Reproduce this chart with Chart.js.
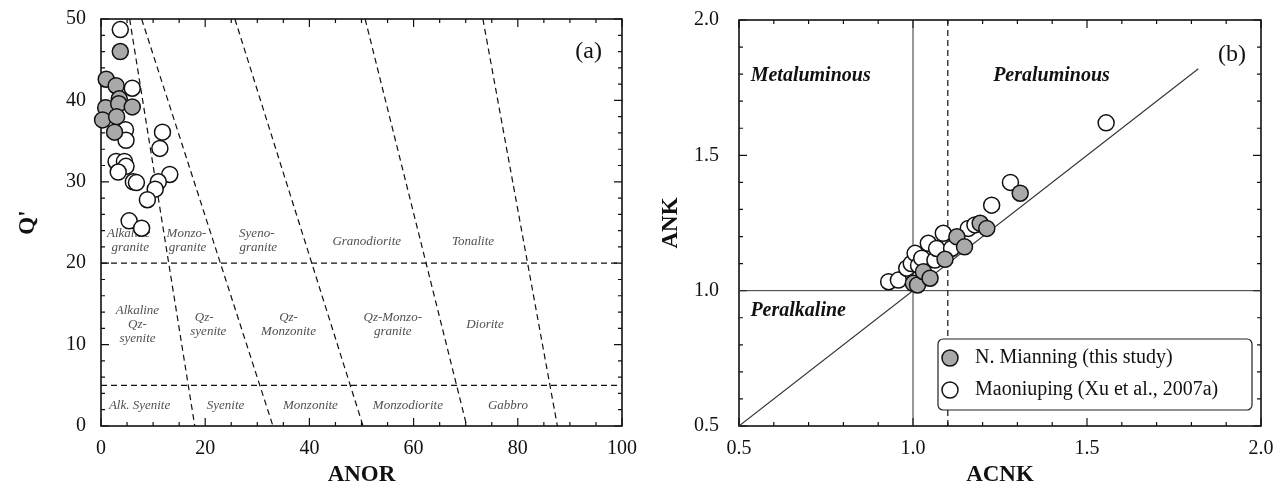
<!DOCTYPE html>
<html lang="en">
<head>
    <meta charset="UTF-8">
    <title>Q'-ANOR and ANK-ACNK diagrams</title>
    <script src="https://cdn.jsdelivr.net/npm/chart.js"></script>
    <style>
        body { margin: 0; background: #fff; }
        .panel { position: absolute; top: 0; }
    </style>
</head>
<body>
    <div class="panel" style="left:0"><canvas id="chartA" width="640" height="488"></canvas></div>
    <div class="panel" style="left:640px"><canvas id="chartB" width="634" height="488"></canvas></div>

    <script>
        // ---- (a) Q' vs ANOR ----
        const mianningAnor = [3.7, 1.0, 2.9, 3.5, 0.9, 3.4, 6.0, 0.3, 3.0, 2.6];
        const mianningQ = [46.0, 42.6, 41.8, 40.2, 39.1, 39.6, 39.2, 37.6, 38.0, 36.1];
        const maoniupingAnor = [3.7, 6.0, 4.7, 4.8, 11.8, 11.3, 2.9, 4.5, 4.8, 3.3, 6.2, 6.8, 13.2, 11.0, 10.4, 8.9, 5.4, 7.8];
        const maoniupingQ = [48.7, 41.5, 36.4, 35.1, 36.1, 34.1, 32.5, 32.5, 31.9, 31.2, 30.0, 29.9, 30.9, 30.0, 29.1, 27.8, 25.2, 24.3];

        // field boundaries: ANOR where each sloping line meets Q'=50 and Q'=0
        const boundaryTopAnor = [5.5, 7.8, 25.7, 50.7, 73.3];
        const boundaryBottomAnor = [18.0, 33.0, 50.3, 70.2, 87.6];
        const boundaryQ = [20, 5];

        const anorRange = [0, 100];
        const qRange = [0, 50];

        const fieldNames = [
            ['Alkaline', 5.3, 23.6], ['granite', 5.6, 21.9],
            ['Monzo-', 16.4, 23.6], ['granite', 16.6, 21.9],
            ['Syeno-', 29.9, 23.6], ['granite', 30.2, 21.9],
            ['Granodiorite', 51.0, 22.6], ['Tonalite', 71.4, 22.6],
            ['Alkaline', 7.0, 14.2], ['Qz-', 7.0, 12.4], ['syenite', 7.0, 10.7],
            ['Qz-', 19.8, 13.3], ['syenite', 20.6, 11.6],
            ['Qz-', 36.0, 13.3], ['Monzonite', 36.0, 11.6],
            ['Qz-Monzo-', 56.0, 13.3], ['granite', 56.0, 11.6],
            ['Diorite', 73.7, 12.4],
            ['Alk. Syenite', 7.4, 2.5], ['Syenite', 23.9, 2.5], ['Monzonite', 40.2, 2.5],
            ['Monzodiorite', 58.9, 2.5], ['Gabbro', 78.1, 2.5]
        ];

        // ---- (b) ANK vs ACNK ----
        const mianningAcnk = [1.001, 1.013, 1.030, 1.049, 1.092, 1.126, 1.148, 1.193, 1.212, 1.308];
        const mianningAnk = [1.027, 1.021, 1.070, 1.046, 1.116, 1.199, 1.162, 1.249, 1.230, 1.360];
        const maoniupingAcnk = [0.93, 0.958, 0.982, 0.995, 1.006, 1.016, 1.025, 1.044, 1.063, 1.068, 1.087, 1.111, 1.159, 1.178, 1.226, 1.28, 1.555];
        const maoniupingAnk = [1.033, 1.039, 1.083, 1.10, 1.138, 1.093, 1.12, 1.175, 1.113, 1.156, 1.212, 1.156, 1.23, 1.243, 1.316, 1.40, 1.62];

        const acnkRange = [0.5, 2.0];
        const ankRange = [0.5, 2.0];
        const diagonalEnd = 1.82;
        const acnkDashed = 1.1;

        const indexNames = [
            ['Metaluminous', 0.706, 1.793], ['Peraluminous', 1.398, 1.793], ['Peralkaline', 0.670, 0.925]
        ];

        const serif = '"Liberation Serif", "Times New Roman", serif';
        const ink = '#111';

        function points(xs, ys) {
            return xs.map((x, i) => ({x: x, y: ys[i]}));
        }

        function sampleSet(label, xs, ys, fill) {
            return {
                label: label,
                data: points(xs, ys),
                pointRadius: 8,
                pointBackgroundColor: fill,
                pointBorderColor: ink,
                pointBorderWidth: 1.5,
                clip: false
            };
        }

        function lineSet(from, to, dashed, width) {
            return {
                data: [from, to],
                showLine: true,
                pointRadius: 0,
                borderColor: dashed ? ink : '#333',
                borderWidth: width || 1.2,
                borderDash: dashed ? [6, 4] : []
            };
        }

        // inward ticks on all four sides plus the frame
        function frameTicks(xMajor, xMinor, yMajor, yMinor) {
            return {
                id: 'frameTicks',
                beforeDatasetsDraw(chart) {
                    const {ctx, chartArea: a, scales: {x, y}} = chart;
                    const isMajor = (v, step) => Math.abs(v / step - Math.round(v / step)) < 1e-6;
                    ctx.save();
                    ctx.strokeStyle = ink;
                    ctx.lineWidth = 1.2;
                    ctx.beginPath();
                    const nx = Math.round((x.max - x.min) / xMinor);
                    for (let i = 0; i <= nx; i++) {
                        const v = x.min + i * xMinor;
                        const px = x.getPixelForValue(v);
                        const len = isMajor(v, xMajor) ? 8 : 4;
                        ctx.moveTo(px, a.bottom); ctx.lineTo(px, a.bottom - len);
                        ctx.moveTo(px, a.top); ctx.lineTo(px, a.top + len);
                    }
                    const ny = Math.round((y.max - y.min) / yMinor);
                    for (let i = 0; i <= ny; i++) {
                        const v = y.min + i * yMinor;
                        const py = y.getPixelForValue(v);
                        const len = isMajor(v, yMajor) ? 8 : 4;
                        ctx.moveTo(a.left, py); ctx.lineTo(a.left + len, py);
                        ctx.moveTo(a.right, py); ctx.lineTo(a.right - len, py);
                    }
                    ctx.stroke();
                    ctx.lineWidth = 1.6;
                    ctx.strokeRect(a.left, a.top, a.right - a.left, a.bottom - a.top);
                    ctx.restore();
                }
            };
        }

        function textLabels(list, font, color, tag, tagPos) {
            return {
                id: 'textLabels',
                beforeDatasetsDraw(chart) {
                    const {ctx, scales: {x, y}} = chart;
                    ctx.save();
                    ctx.textAlign = 'center';
                    ctx.textBaseline = 'middle';
                    ctx.font = font;
                    ctx.fillStyle = color;
                    list.forEach(([t, vx, vy]) => ctx.fillText(t, x.getPixelForValue(vx), y.getPixelForValue(vy)));
                    ctx.font = '24px ' + serif;
                    ctx.fillStyle = ink;
                    ctx.fillText(tag, x.getPixelForValue(tagPos[0]), y.getPixelForValue(tagPos[1]));
                    ctx.restore();
                }
            };
        }

        function axes(xRange, yRange, xStep, yStep, xTitle, yTitle, yAxisWidth, yTitlePad, yLabelPad, fmt) {
            const tickFont = {family: serif, size: 20};
            const titleFont = {family: serif, size: 23, weight: 'bold', lineHeight: 1};
            const noPad = s => { s.paddingLeft = 0; s.paddingRight = 0; s.paddingTop = 0; s.paddingBottom = 0; };
            return {
                x: {
                    type: 'linear', min: xRange[0], max: xRange[1],
                    grid: {display: false, drawTicks: false},
                    border: {display: false},
                    ticks: {stepSize: xStep, font: tickFont, color: ink, padding: 11, maxRotation: 0, callback: fmt},
                    title: {display: true, text: xTitle, font: titleFont, color: ink, padding: {top: 0, bottom: 1}},
                    afterFit(s) { s.height = 62; noPad(s); }
                },
                y: {
                    type: 'linear', min: yRange[0], max: yRange[1],
                    grid: {display: false, drawTicks: false},
                    border: {display: false},
                    ticks: {stepSize: yStep, font: tickFont, color: ink, padding: yLabelPad, callback: fmt},
                    title: {display: true, text: yTitle, font: titleFont, color: ink, padding: {top: yTitlePad, bottom: 0}},
                    afterFit(s) { s.width = yAxisWidth; noPad(s); }
                }
            };
        }

        // ---- chart (a) ----
        const datasetsA = [
            sampleSet('N. Mianning (this study)', mianningAnor, mianningQ, '#a9a9a9'),
            sampleSet('Maoniuping (Xu et al., 2007a)', maoniupingAnor, maoniupingQ, '#ffffff')
        ];
        boundaryQ.forEach(q => datasetsA.push(lineSet({x: anorRange[0], y: q}, {x: anorRange[1], y: q}, true)));
        boundaryTopAnor.forEach((top, i) => datasetsA.push(
            lineSet({x: top, y: qRange[1]}, {x: boundaryBottomAnor[i], y: qRange[0]}, true)));

        new Chart(document.getElementById('chartA'), {
            type: 'scatter',
            data: {datasets: datasetsA},
            options: {
                responsive: false,
                animation: false,
                events: [],
                devicePixelRatio: 1,
                layout: {padding: {top: 19, right: 18, left: 0, bottom: 0}},
                plugins: {legend: {display: false}, tooltip: {enabled: false}},
                scales: axes(anorRange, qRange, 20, 10, 'ANOR', "Q'", 101, 17, 15)
            },
            plugins: [
                frameTicks(20, 5, 10, 2),
                textLabels(fieldNames, 'italic 13px ' + serif, '#505050', '(a)', [93.6, 46.0])
            ]
        });

        // ---- chart (b) ----
        const datasetsB = [
            sampleSet('N. Mianning (this study)', mianningAcnk, mianningAnk, '#a9a9a9'),
            sampleSet('Maoniuping (Xu et al., 2007a)', maoniupingAcnk, maoniupingAnk, '#ffffff'),
            lineSet({x: 1.0, y: ankRange[0]}, {x: 1.0, y: ankRange[1]}, false, 1),
            lineSet({x: acnkRange[0], y: 1.0}, {x: acnkRange[1], y: 1.0}, false, 1),
            lineSet({x: acnkDashed, y: ankRange[0]}, {x: acnkDashed, y: ankRange[1]}, true, 1.2),
            lineSet({x: acnkRange[0], y: ankRange[0]}, {x: diagonalEnd, y: diagonalEnd}, false, 1.1)
        ];

        const sampleLegend = {
            id: 'sampleLegend',
            afterDatasetsDraw(chart) {
                const {ctx, chartArea: a} = chart;
                const bx = a.left + 199, by = a.top + 319, bw = 314, bh = 71, r = 5;
                ctx.save();
                ctx.beginPath();
                ctx.moveTo(bx + r, by);
                ctx.arcTo(bx + bw, by, bx + bw, by + bh, r);
                ctx.arcTo(bx + bw, by + bh, bx, by + bh, r);
                ctx.arcTo(bx, by + bh, bx, by, r);
                ctx.arcTo(bx, by, bx + bw, by, r);
                ctx.closePath();
                ctx.fillStyle = '#fff';
                ctx.fill();
                ctx.strokeStyle = '#222';
                ctx.lineWidth = 1.2;
                ctx.stroke();
                ctx.font = '20px ' + serif;
                ctx.textBaseline = 'middle';
                chart.data.datasets.slice(0, 2).forEach((ds, i) => {
                    const cy = by + 19 + i * 32;
                    ctx.beginPath();
                    ctx.arc(bx + 12, cy, 8, 0, Math.PI * 2);
                    ctx.fillStyle = ds.pointBackgroundColor;
                    ctx.fill();
                    ctx.lineWidth = 1.5;
                    ctx.strokeStyle = ink;
                    ctx.stroke();
                    ctx.fillStyle = ink;
                    ctx.fillText(ds.label, bx + 37, cy);
                });
                ctx.restore();
            }
        };

        new Chart(document.getElementById('chartB'), {
            type: 'scatter',
            data: {datasets: datasetsB},
            options: {
                responsive: false,
                animation: false,
                events: [],
                devicePixelRatio: 1,
                layout: {padding: {top: 20, right: 13, left: 0, bottom: 0}},
                plugins: {legend: {display: false}, tooltip: {enabled: false}},
                scales: axes(acnkRange, ankRange, 0.5, 0.5, 'ACNK', 'ANK', 99, 20, 20, v => v.toFixed(1))
            },
            plugins: [
                frameTicks(0.5, 0.1, 0.5, 0.1),
                textLabels(indexNames, 'bold italic 20px ' + serif, ink, '(b)', [1.917, 1.873]),
                sampleLegend
            ]
        });
    </script>
</body>
</html>
